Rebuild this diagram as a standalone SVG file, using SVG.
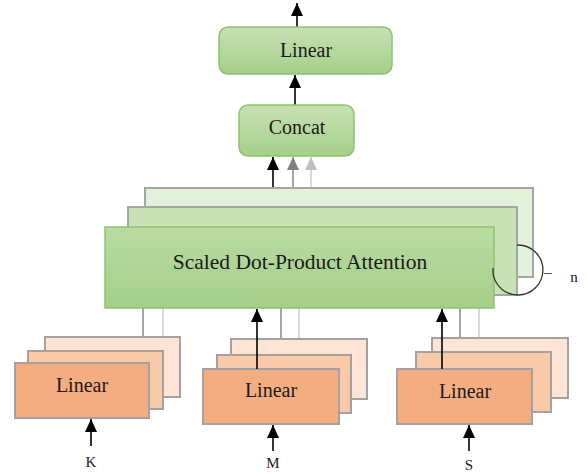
<svg xmlns="http://www.w3.org/2000/svg" width="587" height="474" viewBox="0 0 587 474">
<defs>
<linearGradient id="gG" x1="0" y1="0" x2="0" y2="1"><stop offset="0" stop-color="#c6e1b3"/><stop offset="1" stop-color="#a6cf8a"/></linearGradient>
<linearGradient id="gA" x1="0" y1="0" x2="0" y2="1"><stop offset="0" stop-color="#b9dba2"/><stop offset="1" stop-color="#a5cf89"/></linearGradient>
<marker id="aK" viewBox="0 0 13 12" refX="13" refY="6" markerWidth="13" markerHeight="12" markerUnits="userSpaceOnUse" orient="auto"><path d="M0,0 L13,6 L0,12 Z" fill="#000"/></marker>
<marker id="aG" viewBox="0 0 13 12" refX="13" refY="6" markerWidth="13" markerHeight="12" markerUnits="userSpaceOnUse" orient="auto"><path d="M0,0 L13,6 L0,12 Z" fill="#7f7f7f"/></marker>
<marker id="aL" viewBox="0 0 13 12" refX="13" refY="6" markerWidth="13" markerHeight="12" markerUnits="userSpaceOnUse" orient="auto"><path d="M0,0 L13,6 L0,12 Z" fill="#bfbfbf"/></marker>
</defs>
<style>
text{fill:#1a1a1a;text-anchor:middle}
.gbox{fill:url(#gG);stroke:#8fc271;stroke-width:1.5}
.att{fill:url(#gA);stroke:#8fc271;stroke-width:1.5}
.gm{fill:#c8e2b6;stroke:#a6a6a6;stroke-width:2}
.gb{fill:#e3f0da;stroke:#a6a6a6;stroke-width:2}
.pf{fill:#f3ad80;stroke:#a6a0a0;stroke-width:2}
.pm{fill:#f8caaa;stroke:#a6a0a0;stroke-width:2}
.pb{fill:#fde4d5;stroke:#a6a0a0;stroke-width:2}
.lbl{font-size:20px}
.io{font-size:15px}
.k{stroke:#000;stroke-width:1.6;fill:none}
.g{stroke:#7f7f7f;stroke-width:1.4;fill:none}
.l{stroke:#c8c8c8;stroke-width:1.4;fill:none}
</style>
<g id="connectors">
<line class="k" x1="297" y1="27" x2="297" y2="3" marker-end="url(#aK)"/>
<line class="k" x1="295" y1="105" x2="295" y2="75" marker-end="url(#aK)"/>
<line class="k" x1="273" y1="188" x2="273" y2="157" marker-end="url(#aK)"/>
<line class="g" x1="293" y1="188" x2="293" y2="157" marker-end="url(#aG)"/>
<line class="l" x1="311" y1="188" x2="311" y2="157" marker-end="url(#aL)"/>
<line class="g" x1="143" y1="308" x2="143" y2="337"/>
<line class="l" x1="163" y1="308" x2="163" y2="337"/>
<line class="g" x1="281" y1="308" x2="281" y2="355"/>
<line class="l" x1="299" y1="308" x2="299" y2="339"/>
<line class="g" x1="460" y1="308" x2="460" y2="338"/>
<line class="l" x1="479" y1="308" x2="479" y2="338"/>
<line class="k" x1="91" y1="446" x2="91" y2="419" marker-end="url(#aK)"/>
<line class="k" x1="273" y1="451" x2="273" y2="425" marker-end="url(#aK)"/>
<line class="k" x1="469" y1="451" x2="469" y2="425" marker-end="url(#aK)"/>
</g>
<g font-family="'Liberation Serif', 'DejaVu Serif', serif">
<g id="linear-top">
<rect class="gbox" x="219" y="27" width="173" height="47" rx="9"/>
<text class="lbl" x="306" y="57">Linear</text>
</g>
<g id="concat">
<rect class="gbox" x="239" y="105" width="115" height="51" rx="9"/>
<text class="lbl" x="297" y="134">Concat</text>
</g>
<g id="attention">
<rect class="gb" x="145" y="188" width="388" height="89"/>
<rect class="gm" x="128" y="207" width="389" height="88"/>
<rect class="att" x="105" y="227" width="389" height="81"/>
<text x="300" y="269" style="font-size:21.5px">Scaled Dot-Product Attention</text>
<path d="M517,245 A25,25 0 1 1 493,268" fill="none" stroke="#333" stroke-width="1.3"/>
<text class="io"><tspan x="548" y="277">–</tspan><tspan x="574" y="282">n</tspan></text>
</g>
<g id="linear-k">
<rect class="pb" x="45" y="337" width="135" height="60"/>
<rect class="pm" x="28" y="351" width="135" height="58"/>
<rect class="pf" x="15" y="363" width="134" height="55"/>
<text class="lbl" x="82" y="392">Linear</text>
<text class="io" x="91" y="467">K</text>
</g>
<g id="linear-m">
<rect class="pb" x="231" y="339" width="136" height="60"/>
<rect class="pm" x="217" y="355" width="134" height="58"/>
<rect class="pf" x="203" y="369" width="136" height="55"/>
<text class="lbl" x="271" y="397">Linear</text>
<text class="io" x="273" y="468">M</text>
</g>
<g id="linear-s">
<rect class="pb" x="432" y="338" width="136" height="60"/>
<rect class="pm" x="416" y="352" width="135" height="60"/>
<rect class="pf" x="397" y="369" width="135" height="55"/>
<text class="lbl" x="465" y="398">Linear</text>
<text class="io" x="469" y="470">S</text>
</g>
</g>
<line class="k" x1="257" y1="369" x2="257" y2="309" marker-end="url(#aK)"/>
<line class="k" x1="442" y1="369" x2="442" y2="309" marker-end="url(#aK)"/>
</svg>
